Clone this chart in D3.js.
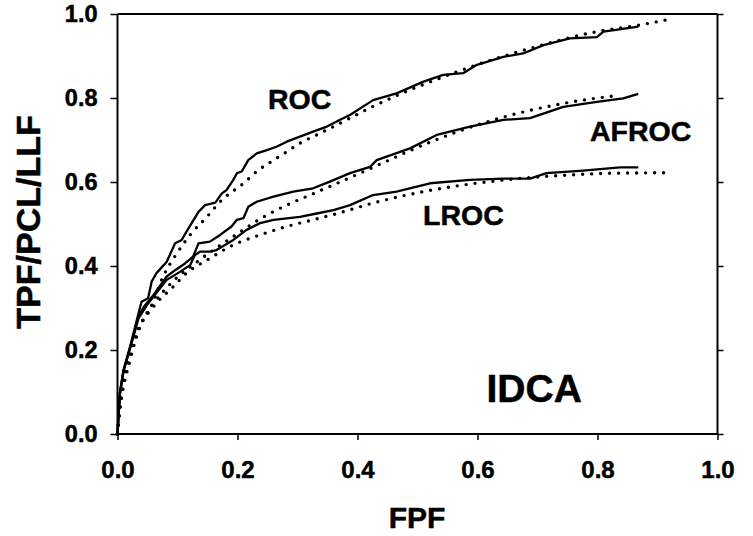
<!DOCTYPE html>
<html><head><meta charset="utf-8">
<script src="https://cdn.jsdelivr.net/npm/d3@7"></script>
<style>
body{margin:0;background:#fff;}
text{font-family:"Liberation Sans",Arial,Helvetica,sans-serif;font-weight:bold;fill:#000;stroke:#000;stroke-width:0.5px;}
</style></head>
<body><svg id="c" width="753" height="536"></svg>
<script>
const xTicks=[0,0.2,0.4,0.6,0.8,1.0];
const yTicks=[0,0.2,0.4,0.6,0.8,1.0];

const rocFpf=[0,0.002,0.004,0.010,0.021,0.035,0.040,0.051,0.057,0.065,0.082,0.096,0.107,0.115,0.135,0.146,0.163,0.174,0.182,0.193,0.199,0.207,0.218,0.232,0.249,0.265,0.282,0.304,0.326,0.349,0.371,0.388,0.426,0.465,0.510,0.543,0.576,0.599,0.643,0.676,0.710,0.754,0.799,0.810,0.868];
const rocTpf=[0,0.05,0.097,0.152,0.208,0.287,0.315,0.323,0.363,0.383,0.410,0.454,0.462,0.482,0.529,0.545,0.551,0.573,0.581,0.605,0.621,0.625,0.652,0.668,0.676,0.684,0.696,0.708,0.720,0.732,0.748,0.760,0.795,0.811,0.839,0.855,0.859,0.879,0.898,0.906,0.926,0.942,0.945,0.958,0.970];

const rocFitFpf=[0,0.002,0.004,0.0125,0.026,0.040,0.057,0.076,0.099,0.121,0.149,0.171,0.210,0.232,0.260,0.282,0.304,0.3375,0.371,0.426,0.565,0.6875,0.799,0.871,0.915];
const rocFit=[0,0.03,0.065,0.145,0.224,0.265,0.307,0.375,0.430,0.474,0.517,0.553,0.597,0.625,0.652,0.672,0.692,0.716,0.740,0.780,0.862,0.918,0.958,0.974,0.986];

const afrocFpf=[0,0.002,0.004,0.010,0.021,0.035,0.045,0.060,0.082,0.096,0.1125,0.126,0.135,0.154,0.171,0.190,0.199,0.210,0.218,0.232,0.260,0.293,0.326,0.354,0.3875,0.421,0.432,0.4875,0.532,0.5875,0.643,0.6875,0.743,0.799,0.843,0.868];
const afrocTpf=[0,0.05,0.097,0.15,0.205,0.28,0.305,0.331,0.375,0.390,0.406,0.422,0.454,0.458,0.474,0.494,0.510,0.514,0.541,0.553,0.565,0.577,0.585,0.601,0.621,0.636,0.652,0.680,0.712,0.732,0.748,0.752,0.779,0.791,0.799,0.810];

const afrocFitFpf=[0,0.002,0.005,0.012,0.025,0.040,0.060,0.090,0.1375,0.193,0.2375,0.282,0.326,0.371,0.426,0.521,0.632,0.743,0.8375];
const afrocFit=[0,0.03,0.07,0.14,0.21,0.265,0.31,0.36,0.415,0.470,0.512,0.545,0.572,0.600,0.635,0.695,0.750,0.787,0.807];

const lrocFpf=[0,0.002,0.004,0.010,0.021,0.035,0.049,0.082,0.104,0.121,0.129,0.1375,0.154,0.165,0.179,0.193,0.215,0.2375,0.260,0.304,0.332,0.360,0.3875,0.426,0.465,0.521,0.5875,0.643,0.6875,0.715,0.776,0.8375,0.868];
const lrocTpf=[0,0.05,0.097,0.15,0.205,0.275,0.307,0.367,0.386,0.402,0.426,0.434,0.434,0.438,0.450,0.462,0.486,0.502,0.510,0.517,0.525,0.533,0.545,0.569,0.577,0.597,0.605,0.608,0.608,0.621,0.627,0.635,0.635];

const lrocFitFpf=[0,0.002,0.007,0.021,0.0375,0.060,0.093,0.115,0.149,0.193,0.2375,0.282,0.326,0.371,0.426,0.521,0.632,0.743,0.832,0.915];
const lrocFit=[0,0.04,0.089,0.176,0.255,0.303,0.351,0.383,0.414,0.450,0.474,0.494,0.510,0.527,0.550,0.580,0.603,0.616,0.621,0.622];

const curveLabels=["ROC","AFROC","LROC"];
const panelTitle="IDCA";
const xTitle="FPF", yTitle="TPF/PCL/LLF";

const svg=d3.select("#c");
const L=117.5,R=717.5,T=14,B=434;
const x=d3.scaleLinear().domain([0,1]).range([L,R]);
const y=d3.scaleLinear().domain([0,1]).range([B,T]);
const fmt=d3.format(".1f");

// frame top/right
svg.append("line").attr("x1",L).attr("x2",R).attr("y1",T).attr("y2",T).attr("stroke","#000").attr("stroke-width",2);
const ra=svg.append("g").attr("transform",`translate(${R},0)`).call(d3.axisRight(y).tickValues(yTicks).tickSize(6).tickFormat(""));
ra.select(".domain").attr("stroke-width",2).attr("d",`M0,${T}V${B}`);
ra.selectAll(".tick line").attr("stroke-width",1.5);

const xa=svg.append("g").attr("transform",`translate(0,${B})`).call(d3.axisBottom(x).tickValues(xTicks).tickSize(6).tickPadding(21).tickFormat(fmt));
xa.select(".domain").attr("stroke-width",2).attr("d",`M${L},0H${R}`);
xa.selectAll(".tick line").attr("stroke-width",1.5);
xa.selectAll("text").style("font-size","24px").style("font-family",null);

const ya=svg.append("g").attr("transform",`translate(${L},0)`).call(d3.axisLeft(y).tickValues(yTicks).tickSize(7).tickPadding(13).tickFormat(fmt));
ya.select(".domain").attr("stroke-width",2).attr("d",`M0,${T}V${B}`);
ya.selectAll(".tick line").attr("stroke-width",1.5);
ya.selectAll("text").style("font-size","23.5px").style("font-family",null);

svg.selectAll(".domain,.tick line").attr("stroke","#000");

const solid=d3.line().x(d=>x(d[0])).y(d=>y(d[1]));
const smooth=d3.line().x(d=>x(d[0])).y(d=>y(d[1])).curve(d3.curveMonotoneX);
const zip=(a,b)=>a.map((v,i)=>[v,b[i]]);

[[rocFitFpf,rocFit],[afrocFitFpf,afrocFit],[lrocFitFpf,lrocFit]].forEach(([a,b])=>{
  svg.append("path").attr("d",smooth(zip(a,b))).attr("fill","none").attr("stroke","#000")
   .attr("stroke-width",3.4).attr("stroke-linecap","round").attr("stroke-dasharray","0,9");
});
[[rocFpf,rocTpf],[afrocFpf,afrocTpf],[lrocFpf,lrocTpf]].forEach(([a,b])=>{
  svg.append("path").attr("d",solid(zip(a,b))).attr("fill","none").attr("stroke","#000")
   .attr("stroke-width",2.3).attr("stroke-linejoin","round");
});

const lab=[[268,109,curveLabels[0]],[590,141,curveLabels[1]],[423,225,curveLabels[2]]];
lab.forEach(([px,py,t])=>svg.append("text").attr("x",px).attr("y",py).style("font-size","28.5px").text(t));
svg.append("text").attr("x",486.5).attr("y",401.5).style("font-size","39px").text(panelTitle);
svg.append("text").attr("x",417).attr("y",528).attr("text-anchor","middle").style("font-size","30px").text(xTitle);
svg.append("text").attr("transform","translate(40,222) rotate(-90)").attr("text-anchor","middle").style("font-size","34px").text(yTitle);
</script></body></html>
